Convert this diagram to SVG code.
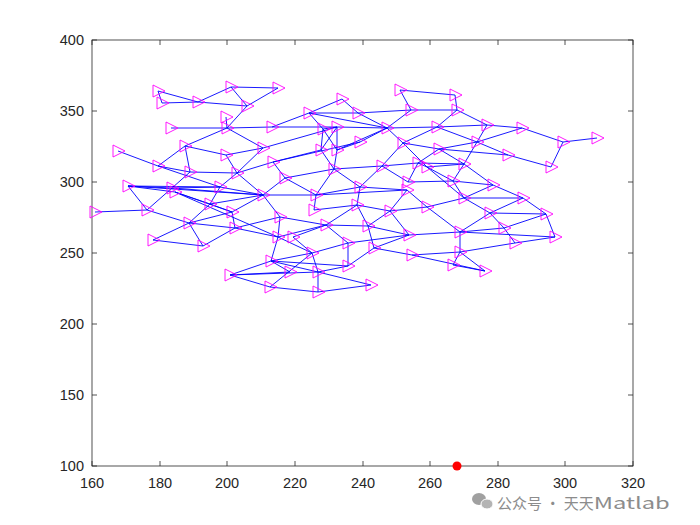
<svg xmlns="http://www.w3.org/2000/svg" xmlns:xlink="http://www.w3.org/1999/xlink" width="700" height="525" viewBox="0 0 700 525">
<style>
.ax{fill:none;stroke:#262626;stroke-width:0.8}
.tk{font-family:"Liberation Sans",Arial,sans-serif;font-size:14.5px;fill:#262626}
.e line{stroke:#0000ff;stroke-width:0.9}
.m{fill:none;stroke:#ff00ff;stroke-width:0.9}
.wm{font-family:"Noto Sans CJK SC","Liberation Sans",sans-serif;fill:#8c8c8c}
</style>
<defs>
<path id="m" class="m" d="M-5,-6 L7,0 L-5,6 Z"/>
</defs>
<rect width="700" height="525" fill="#fff"/>
<g id="axes">
<rect class="ax" x="92" y="40" width="541" height="426"/>
<path class="ax" d="M92,466v-5M160,466v-5M227,466v-5M295,466v-5M363,466v-5M430,466v-5M498,466v-5M565,466v-5M633,466v-5M92,40v5M160,40v5M227,40v5M295,40v5M363,40v5M430,40v5M498,40v5M565,40v5M633,40v5M92,466h5M92,395h5M92,324h5M92,253h5M92,182h5M92,111h5M92,40h5M633,466h-5M633,395h-5M633,324h-5M633,253h-5M633,182h-5M633,111h-5M633,40h-5"/>
<g class="tk" text-anchor="middle">
<text x="92" y="488">160</text><text x="160" y="488">180</text><text x="227" y="488">200</text><text x="295" y="488">220</text><text x="363" y="488">240</text><text x="430" y="488">260</text><text x="498" y="488">280</text><text x="565" y="488">300</text><text x="633" y="488">320</text>
</g>
<g class="tk" text-anchor="end">
<text x="84" y="471">100</text><text x="84" y="400">150</text><text x="84" y="329">200</text><text x="84" y="258">250</text><text x="84" y="187">300</text><text x="84" y="116">350</text><text x="84" y="45">400</text>
</g>
</g>
<g id="edges" class="e">
<line x1="158" y1="91" x2="162" y2="103"/><line x1="158" y1="91" x2="198" y2="102"/><line x1="162" y1="103" x2="198" y2="102"/><line x1="198" y1="102" x2="231" y2="87"/><line x1="198" y1="102" x2="247" y2="106"/><line x1="231" y1="87" x2="278" y2="88"/><line x1="231" y1="87" x2="247" y2="106"/><line x1="278" y1="88" x2="247" y2="106"/><line x1="247" y1="106" x2="227" y2="128"/><line x1="226" y1="117" x2="227" y2="128"/><line x1="171" y1="128" x2="227" y2="128"/><line x1="227" y1="128" x2="185" y2="146"/><line x1="227" y1="128" x2="272" y2="127"/><line x1="227" y1="128" x2="263" y2="148"/><line x1="185" y1="146" x2="226" y2="155"/><line x1="185" y1="146" x2="158" y2="166"/><line x1="185" y1="146" x2="190" y2="172"/><line x1="118" y1="151" x2="158" y2="166"/><line x1="226" y1="155" x2="263" y2="148"/><line x1="226" y1="155" x2="237" y2="173"/><line x1="158" y1="166" x2="190" y2="172"/><line x1="158" y1="166" x2="220" y2="187"/><line x1="190" y1="172" x2="237" y2="173"/><line x1="190" y1="172" x2="172" y2="188"/><line x1="263" y1="148" x2="237" y2="173"/><line x1="263" y1="148" x2="337" y2="127"/><line x1="272" y1="127" x2="309" y2="113"/><line x1="272" y1="127" x2="337" y2="127"/>
<line x1="128" y1="186" x2="172" y2="188"/><line x1="128" y1="186" x2="175" y2="192"/><line x1="128" y1="186" x2="220" y2="187"/><line x1="128" y1="186" x2="263" y2="195"/><line x1="128" y1="186" x2="147" y2="210"/><line x1="95" y1="212" x2="147" y2="210"/><line x1="147" y1="210" x2="172" y2="188"/><line x1="147" y1="210" x2="189" y2="223"/><line x1="172" y1="188" x2="220" y2="187"/><line x1="172" y1="188" x2="263" y2="195"/><line x1="175" y1="192" x2="210" y2="204"/><line x1="175" y1="192" x2="232" y2="212"/><line x1="175" y1="192" x2="278" y2="237"/><line x1="220" y1="187" x2="210" y2="204"/><line x1="220" y1="187" x2="263" y2="195"/><line x1="210" y1="204" x2="232" y2="212"/><line x1="210" y1="204" x2="263" y2="195"/><line x1="210" y1="204" x2="189" y2="223"/><line x1="232" y1="212" x2="189" y2="223"/><line x1="232" y1="212" x2="263" y2="195"/><line x1="232" y1="212" x2="235" y2="228"/><line x1="189" y1="223" x2="235" y2="228"/><line x1="189" y1="223" x2="153" y2="240"/><line x1="189" y1="223" x2="203" y2="246"/><line x1="153" y1="240" x2="203" y2="246"/><line x1="235" y1="228" x2="203" y2="246"/><line x1="235" y1="228" x2="278" y2="237"/><line x1="235" y1="228" x2="280" y2="217"/><line x1="237" y1="173" x2="263" y2="195"/><line x1="237" y1="173" x2="273" y2="162"/><line x1="237" y1="173" x2="220" y2="187"/>
<line x1="342" y1="99" x2="309" y2="113"/><line x1="342" y1="99" x2="358" y2="113"/><line x1="309" y1="113" x2="358" y2="113"/><line x1="309" y1="113" x2="323" y2="129"/><line x1="309" y1="113" x2="387" y2="128"/><line x1="358" y1="113" x2="387" y2="128"/><line x1="358" y1="113" x2="411" y2="110"/><line x1="323" y1="129" x2="337" y2="127"/><line x1="323" y1="129" x2="321" y2="150"/><line x1="323" y1="129" x2="337" y2="150"/><line x1="337" y1="127" x2="321" y2="150"/><line x1="337" y1="127" x2="337" y2="150"/><line x1="337" y1="127" x2="387" y2="128"/><line x1="337" y1="150" x2="387" y2="128"/><line x1="360" y1="142" x2="387" y2="128"/><line x1="360" y1="142" x2="337" y2="150"/><line x1="360" y1="142" x2="273" y2="162"/><line x1="403" y1="143" x2="387" y2="128"/><line x1="403" y1="143" x2="437" y2="127"/><line x1="403" y1="143" x2="382" y2="166"/><line x1="403" y1="143" x2="427" y2="167"/><line x1="403" y1="143" x2="439" y2="149"/><line x1="321" y1="150" x2="334" y2="169"/><line x1="337" y1="150" x2="334" y2="169"/><line x1="321" y1="150" x2="273" y2="162"/><line x1="387" y1="128" x2="411" y2="110"/><line x1="387" y1="128" x2="437" y2="127"/><line x1="400" y1="90" x2="411" y2="110"/><line x1="400" y1="90" x2="455" y2="95"/><line x1="411" y1="110" x2="457" y2="110"/>
<line x1="273" y1="162" x2="285" y2="178"/><line x1="285" y1="178" x2="316" y2="195"/><line x1="285" y1="178" x2="334" y2="169"/><line x1="316" y1="195" x2="314" y2="210"/><line x1="316" y1="195" x2="360" y2="187"/><line x1="316" y1="195" x2="334" y2="169"/><line x1="316" y1="195" x2="407" y2="190"/><line x1="263" y1="195" x2="316" y2="195"/><line x1="263" y1="195" x2="280" y2="217"/><line x1="263" y1="195" x2="285" y2="178"/><line x1="280" y1="217" x2="326" y2="225"/><line x1="280" y1="217" x2="278" y2="237"/><line x1="326" y1="225" x2="357" y2="205"/><line x1="326" y1="225" x2="368" y2="226"/><line x1="326" y1="225" x2="293" y2="237"/><line x1="326" y1="225" x2="278" y2="237"/><line x1="326" y1="225" x2="348" y2="243"/><line x1="314" y1="210" x2="357" y2="205"/><line x1="357" y1="205" x2="360" y2="187"/><line x1="357" y1="205" x2="390" y2="211"/><line x1="357" y1="205" x2="368" y2="226"/><line x1="360" y1="187" x2="382" y2="166"/><line x1="360" y1="187" x2="407" y2="190"/><line x1="334" y1="169" x2="382" y2="166"/><line x1="382" y1="166" x2="408" y2="182"/><line x1="382" y1="166" x2="418" y2="163"/><line x1="418" y1="163" x2="427" y2="167"/><line x1="418" y1="163" x2="408" y2="182"/><line x1="360" y1="187" x2="334" y2="169"/><line x1="390" y1="211" x2="427" y2="207"/><line x1="390" y1="211" x2="407" y2="190"/><line x1="390" y1="211" x2="368" y2="226"/><line x1="390" y1="211" x2="409" y2="235"/><line x1="427" y1="207" x2="407" y2="190"/><line x1="368" y1="226" x2="409" y2="235"/><line x1="368" y1="226" x2="374" y2="248"/><line x1="348" y1="243" x2="312" y2="253"/><line x1="348" y1="243" x2="348" y2="266"/><line x1="348" y1="243" x2="409" y2="235"/><line x1="374" y1="248" x2="348" y2="266"/><line x1="374" y1="248" x2="412" y2="255"/><line x1="374" y1="248" x2="409" y2="235"/><line x1="293" y1="237" x2="312" y2="253"/><line x1="278" y1="237" x2="271" y2="261"/><line x1="278" y1="237" x2="312" y2="253"/><line x1="312" y1="253" x2="318" y2="272"/><line x1="312" y1="253" x2="271" y2="261"/><line x1="312" y1="253" x2="270" y2="287"/><line x1="271" y1="261" x2="348" y2="266"/><line x1="271" y1="261" x2="290" y2="272"/><line x1="271" y1="261" x2="318" y2="272"/><line x1="348" y1="266" x2="318" y2="272"/><line x1="318" y1="272" x2="318" y2="292"/><line x1="318" y1="272" x2="371" y2="285"/><line x1="270" y1="287" x2="318" y2="292"/><line x1="318" y1="292" x2="371" y2="285"/><line x1="230" y1="275" x2="271" y2="261"/><line x1="230" y1="275" x2="290" y2="272"/><line x1="230" y1="275" x2="318" y2="272"/><line x1="230" y1="275" x2="270" y2="287"/>
<line x1="455" y1="95" x2="457" y2="110"/><line x1="457" y1="110" x2="437" y2="127"/><line x1="457" y1="110" x2="487" y2="125"/><line x1="437" y1="127" x2="487" y2="125"/><line x1="437" y1="127" x2="477" y2="142"/><line x1="439" y1="149" x2="477" y2="142"/><line x1="439" y1="149" x2="464" y2="164"/><line x1="439" y1="149" x2="508" y2="155"/><line x1="477" y1="142" x2="508" y2="155"/><line x1="477" y1="142" x2="522" y2="128"/><line x1="477" y1="142" x2="487" y2="125"/><line x1="477" y1="142" x2="464" y2="164"/><line x1="508" y1="155" x2="551" y2="167"/><line x1="487" y1="125" x2="522" y2="128"/><line x1="522" y1="128" x2="563" y2="142"/><line x1="563" y1="142" x2="597" y2="138"/><line x1="563" y1="142" x2="551" y2="167"/><line x1="464" y1="164" x2="453" y2="181"/><line x1="464" y1="164" x2="493" y2="185"/><line x1="464" y1="164" x2="427" y2="167"/><line x1="464" y1="164" x2="418" y2="163"/><line x1="453" y1="181" x2="493" y2="185"/><line x1="453" y1="181" x2="464" y2="198"/><line x1="493" y1="185" x2="464" y2="198"/><line x1="493" y1="185" x2="523" y2="198"/><line x1="464" y1="198" x2="523" y2="198"/><line x1="464" y1="198" x2="490" y2="213"/><line x1="523" y1="198" x2="490" y2="213"/><line x1="523" y1="198" x2="546" y2="214"/><line x1="490" y1="213" x2="546" y2="214"/><line x1="490" y1="213" x2="504" y2="228"/><line x1="490" y1="213" x2="460" y2="232"/><line x1="546" y1="214" x2="504" y2="228"/><line x1="546" y1="214" x2="555" y2="237"/><line x1="460" y1="232" x2="504" y2="228"/><line x1="460" y1="232" x2="555" y2="237"/><line x1="504" y1="228" x2="515" y2="243"/><line x1="515" y1="243" x2="555" y2="237"/><line x1="460" y1="232" x2="460" y2="252"/><line x1="460" y1="252" x2="515" y2="243"/><line x1="460" y1="252" x2="453" y2="265"/><line x1="460" y1="252" x2="485" y2="271"/><line x1="453" y1="265" x2="485" y2="271"/><line x1="409" y1="235" x2="460" y2="232"/><line x1="412" y1="255" x2="460" y2="252"/><line x1="412" y1="255" x2="485" y2="271"/><line x1="408" y1="182" x2="453" y2="181"/><line x1="464" y1="198" x2="427" y2="207"/><line x1="464" y1="198" x2="427" y2="167"/><line x1="453" y1="181" x2="427" y2="167"/><line x1="427" y1="207" x2="460" y2="232"/><line x1="439" y1="149" x2="418" y2="163"/>
</g>
<g id="nodes">
<g id="n1"><use href="#m" x="158" y="91"/></g><g id="n2"><use href="#m" x="162" y="103"/></g><g id="n3"><use href="#m" x="198" y="102"/></g><g id="n4"><use href="#m" x="231" y="87"/></g><g id="n5"><use href="#m" x="278" y="88"/></g><g id="n6"><use href="#m" x="247" y="106"/></g><g id="n7"><use href="#m" x="226" y="117"/></g><g id="n8"><use href="#m" x="227" y="128"/></g><g id="n9"><use href="#m" x="171" y="128"/></g><g id="n10"><use href="#m" x="118" y="151"/></g>
<g id="n11"><use href="#m" x="185" y="146"/></g><g id="n12"><use href="#m" x="226" y="155"/></g><g id="n13"><use href="#m" x="158" y="166"/></g><g id="n14"><use href="#m" x="190" y="172"/></g><g id="n15"><use href="#m" x="237" y="173"/></g><g id="n16"><use href="#m" x="263" y="148"/></g><g id="n17"><use href="#m" x="272" y="127"/></g><g id="n18"><use href="#m" x="128" y="186"/></g><g id="n19"><use href="#m" x="172" y="188"/></g><g id="n20"><use href="#m" x="175" y="192"/></g>
<g id="n21"><use href="#m" x="220" y="187"/></g><g id="n22"><use href="#m" x="263" y="195"/></g><g id="n23"><use href="#m" x="210" y="204"/></g><g id="n24"><use href="#m" x="232" y="212"/></g><g id="n25"><use href="#m" x="189" y="223"/></g><g id="n26"><use href="#m" x="235" y="228"/></g><g id="n27"><use href="#m" x="95" y="212"/></g><g id="n28"><use href="#m" x="147" y="210"/></g><g id="n29"><use href="#m" x="153" y="240"/></g><g id="n30"><use href="#m" x="203" y="246"/></g>
<g id="n31"><use href="#m" x="230" y="275"/></g><g id="n33"><use href="#m" x="342" y="99"/></g><g id="n34"><use href="#m" x="309" y="113"/></g><g id="n35"><use href="#m" x="358" y="113"/></g><g id="n36"><use href="#m" x="323" y="129"/></g><g id="n37"><use href="#m" x="337" y="127"/></g><g id="n38"><use href="#m" x="387" y="128"/></g><g id="n39"><use href="#m" x="400" y="90"/></g><g id="n40"><use href="#m" x="411" y="110"/></g>
<g id="n41"><use href="#m" x="437" y="127"/></g><g id="n42"><use href="#m" x="360" y="142"/></g><g id="n43"><use href="#m" x="403" y="143"/></g><g id="n44"><use href="#m" x="321" y="150"/></g><g id="n45"><use href="#m" x="337" y="150"/></g><g id="n46"><use href="#m" x="439" y="149"/></g><g id="n47"><use href="#m" x="273" y="162"/></g><g id="n48"><use href="#m" x="334" y="169"/></g><g id="n49"><use href="#m" x="382" y="166"/></g><g id="n50"><use href="#m" x="418" y="163"/></g>
<g id="n51"><use href="#m" x="427" y="167"/></g><g id="n52"><use href="#m" x="285" y="178"/></g><g id="n53"><use href="#m" x="360" y="187"/></g><g id="n54"><use href="#m" x="408" y="182"/></g><g id="n55"><use href="#m" x="407" y="190"/></g><g id="n56"><use href="#m" x="316" y="195"/></g><g id="n57"><use href="#m" x="314" y="210"/></g><g id="n58"><use href="#m" x="357" y="205"/></g><g id="n59"><use href="#m" x="390" y="211"/></g><g id="n60"><use href="#m" x="427" y="207"/></g>
<g id="n61"><use href="#m" x="280" y="217"/></g><g id="n62"><use href="#m" x="326" y="225"/></g><g id="n63"><use href="#m" x="368" y="226"/></g><g id="n64"><use href="#m" x="409" y="235"/></g><g id="n65"><use href="#m" x="278" y="237"/></g><g id="n66"><use href="#m" x="293" y="237"/></g><g id="n67"><use href="#m" x="348" y="243"/></g><g id="n68"><use href="#m" x="374" y="248"/></g><g id="n69"><use href="#m" x="412" y="255"/></g><g id="n70"><use href="#m" x="312" y="253"/></g>
<g id="n71"><use href="#m" x="271" y="261"/></g><g id="n72"><use href="#m" x="348" y="266"/></g><g id="n73"><use href="#m" x="290" y="272"/></g><g id="n74"><use href="#m" x="318" y="272"/></g><g id="n75"><use href="#m" x="371" y="285"/></g><g id="n76"><use href="#m" x="270" y="287"/></g><g id="n77"><use href="#m" x="318" y="292"/></g><g id="n78"><use href="#m" x="455" y="95"/></g><g id="n79"><use href="#m" x="457" y="110"/></g><g id="n80"><use href="#m" x="487" y="125"/></g>
<g id="n81"><use href="#m" x="522" y="128"/></g><g id="n82"><use href="#m" x="563" y="142"/></g><g id="n83"><use href="#m" x="597" y="138"/></g><g id="n84"><use href="#m" x="477" y="142"/></g><g id="n85"><use href="#m" x="508" y="155"/></g><g id="n86"><use href="#m" x="551" y="167"/></g><g id="n87"><use href="#m" x="464" y="164"/></g><g id="n88"><use href="#m" x="453" y="181"/></g><g id="n89"><use href="#m" x="493" y="185"/></g><g id="n90"><use href="#m" x="523" y="198"/></g>
<g id="n91"><use href="#m" x="464" y="198"/></g><g id="n92"><use href="#m" x="490" y="213"/></g><g id="n93"><use href="#m" x="546" y="214"/></g><g id="n94"><use href="#m" x="504" y="228"/></g><g id="n95"><use href="#m" x="555" y="237"/></g><g id="n96"><use href="#m" x="460" y="232"/></g><g id="n97"><use href="#m" x="515" y="243"/></g><g id="n98"><use href="#m" x="460" y="252"/></g><g id="n99"><use href="#m" x="453" y="265"/></g><g id="n100"><use href="#m" x="485" y="271"/></g>
<g id="sink"><circle cx="457" cy="466" r="4.5" fill="#ff0000"/></g>
</g>
<g id="watermark">
<ellipse cx="479" cy="499" rx="7" ry="6" fill="#a0a0a0"/>
<ellipse cx="487" cy="504" rx="6" ry="5" fill="#b4b4b4" stroke="#fff" stroke-width="1"/>
<text class="wm" x="497" y="509" font-size="15">公众号 · 天天<tspan font-size="16" textLength="76" lengthAdjust="spacingAndGlyphs">Matlab</tspan></text>
</g>
</svg>
